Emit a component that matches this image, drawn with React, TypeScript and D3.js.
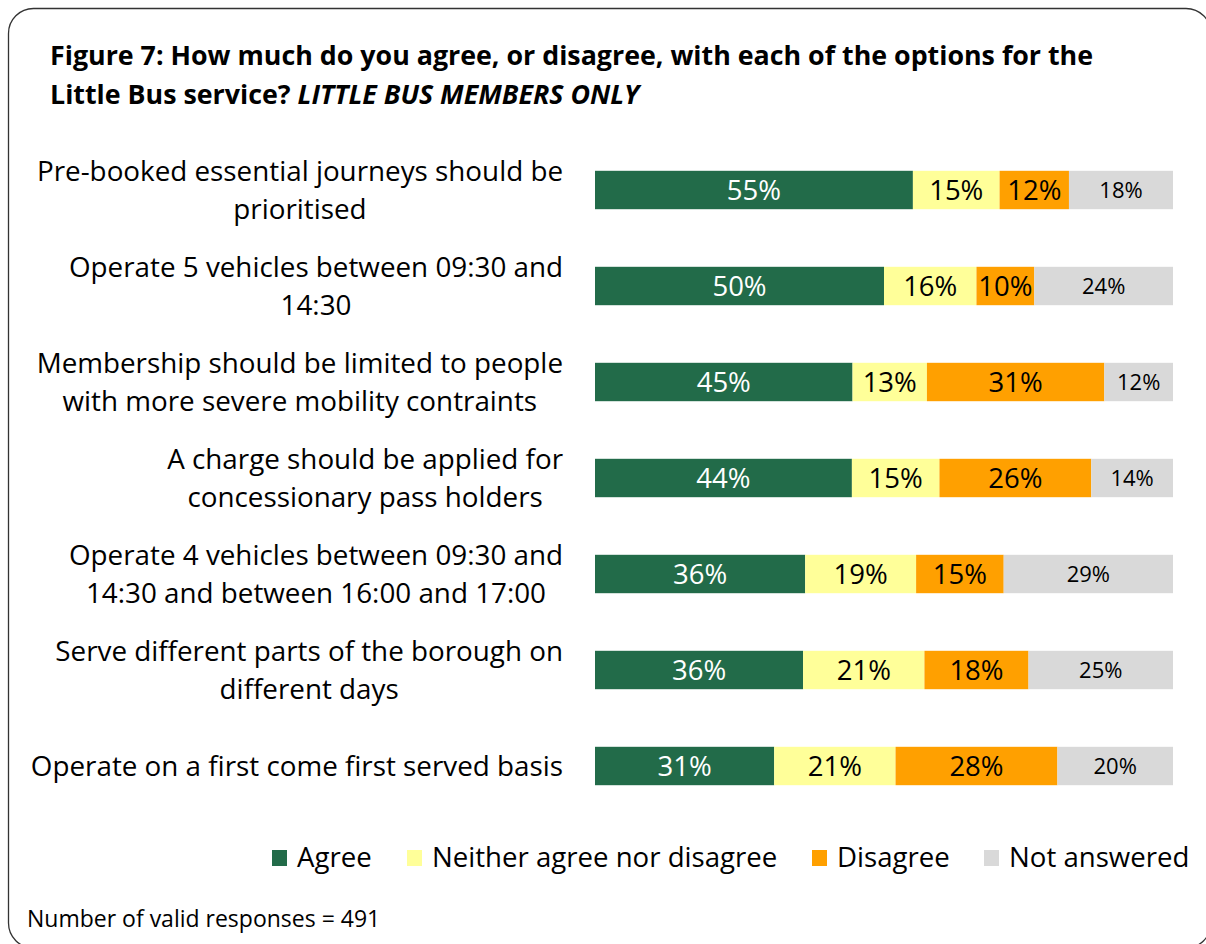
import React from "react";
import * as d3 from "d3";

const categories = [
  ["Pre-booked essential journeys should be", "prioritised"],
  ["Operate 5 vehicles between 09:30 and", "14:30"],
  ["Membership should be limited to people", "with more severe mobility contraints"],
  ["A charge should be applied for", "concessionary pass holders"],
  ["Operate 4 vehicles between 09:30 and", "14:30 and between 16:00 and 17:00"],
  ["Serve different parts of the borough on", "different days"],
  ["Operate on a first come first served basis"],
];
const agree = [55, 50, 45, 44, 36, 36, 31];
const neither = [15, 16, 13, 15, 19, 21, 21];
const disagree = [12, 10, 31, 26, 15, 18, 28];
const notAnswered = [18, 24, 12, 14, 29, 25, 20];
const seriesNames = ["Agree", "Neither agree nor disagree", "Disagree", "Not answered"];
const seriesColors = ["#226B49", "#FFFF99", "#FFA000", "#D9D9D9"];
const labelColors = ["#FFFFFF", "#000000", "#000000", "#000000"];

const FONT = "'Open Sans', sans-serif";
const CAT_FS = 27.8;

let measureCtx: CanvasRenderingContext2D | null = null;
function measure(text: string, fs: number): number {
  if (typeof document === "undefined") return text.length * fs * 0.5;
  if (!measureCtx) measureCtx = document.createElement("canvas").getContext("2d");
  if (!measureCtx) return text.length * fs * 0.5;
  measureCtx.font = `${fs}px 'Open Sans', sans-serif`;
  return measureCtx.measureText(text).width;
}

export default function App() {
  const W = 1206, H = 944;
  const keys = ["a", "n", "d", "x"];
  const rows = categories.map((c, i) => ({
    idx: i, a: agree[i], n: neither[i], d: disagree[i], x: notAnswered[i],
  }));
  const stack = d3.stack<any>().keys(keys).offset(d3.stackOffsetExpand);
  const layers = stack(rows);
  const x = d3.scaleLinear().domain([0, 1]).range([595, 1173]);
  const y = d3.scaleBand<number>().domain(d3.range(categories.length)).range([142, 814]).paddingInner(0.6).paddingOuter(0.3);
  const legendX = [272, 407, 812, 984];
  const labelRight = 563;

  return (
    <svg width={W} height={H} style={{ position: "absolute", left: 0, top: 0, display: "block" }} fontFamily={FONT}>
      <rect x={0} y={0} width={W} height={H} fill="#fff" />
      <rect x={8.5} y={8.5} width={1202.5} height={939.5} rx={25} ry={25} fill="none" stroke="#333" strokeWidth={1.3} />
      <text x={50} y={65} fontSize={26.8} fontWeight="bold" fill="#000">
        Figure 7: How much do you agree, or disagree, with each of the options for the
      </text>
      <text x={50} y={104} fontSize={26.8} fontWeight="bold" fill="#000">
        Little Bus service? <tspan fontStyle="italic">LITTLE BUS MEMBERS ONLY</tspan>
      </text>
      {categories.map((lines, i) => {
        const cy = (y(i) as number) + y.bandwidth() / 2;
        const n = lines.length;
        const maxW = d3.max(lines, (l) => measure(l, CAT_FS)) as number;
        const cx = labelRight - maxW / 2;
        return (
          <text key={i} fontSize={CAT_FS} textAnchor="middle" fill="#000">
            {lines.map((l, j) => (
              <tspan key={j} x={cx} y={cy + (j - (n - 1) / 2) * 38 + 10}>{l}</tspan>
            ))}
          </text>
        );
      })}
      {layers.map((layer, k) => (
        <g key={k}>
          {layer.map((seg, i) => {
            const x0 = x(seg[0]), x1 = x(seg[1]);
            const yy = y(i) as number;
            const val = (rows[i] as any)[keys[k]];
            const fs = k === 3 ? 22 : 27.5;
            return (
              <g key={i}>
                <rect x={x0} y={yy} width={x1 - x0} height={y.bandwidth()} fill={seriesColors[k]} />
                <text x={(x0 + x1) / 2} y={yy + y.bandwidth() / 2 + fs * 0.36} fontSize={fs} textAnchor="middle" fill={labelColors[k]}>
                  {val}%
                </text>
              </g>
            );
          })}
        </g>
      ))}
      {seriesNames.map((s, k) => (
        <g key={k}>
          <rect x={legendX[k]} y={850} width={15} height={16} fill={seriesColors[k]} />
          <text x={legendX[k] + 25} y={867} fontSize={27.6} fill="#000">{s}</text>
        </g>
      ))}
      <text x={27} y={927} fontSize={23} fill="#000">Number of valid responses = 491</text>
    </svg>
  );
}
